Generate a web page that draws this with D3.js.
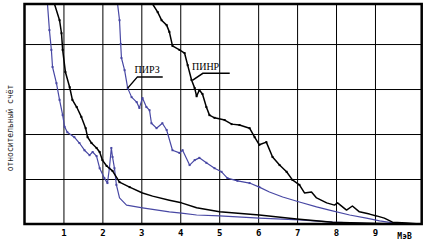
<!DOCTYPE html>
<html>
<head>
<meta charset="utf-8">
<script src="https://cdn.jsdelivr.net/npm/d3@7"></script>
<style>
  body { margin: 0; background: #fff; }
  svg { display: block; }
</style>
</head>
<body>
<div id="chart"></div>
<script>
// ticks along the energy axis
let xTicks = [1, 2, 3, 4, 5, 6, 7, 8, 9];
let yGrid = [1, 2, 3, 4];
let unitLabel = "МэВ";
let yLabel = "относительный счёт";

// left steep black curve
let blackA_x = [0.77, 0.90, 0.95, 0.98, 1.05, 1.16, 1.23, 1.34, 1.46, 1.57, 1.62, 1.72, 1.85, 1.93, 2.00, 2.11, 2.26, 2.44, 2.70, 3.03, 3.29, 3.72, 4.03, 4.42, 5.01, 6.03, 6.99, 7.91, 8.60, 9.63];
let blackA_y = [4.89, 4.53, 4.24, 3.87, 3.38, 3.04, 2.76, 2.60, 2.38, 2.13, 1.93, 1.80, 1.69, 1.60, 1.42, 1.29, 1.18, 0.93, 0.82, 0.69, 0.62, 0.53, 0.47, 0.36, 0.27, 0.20, 0.11, 0.04, 0.02, 0.0];

// left steep blue curve
let blueB_x = [0.59, 0.64, 0.69, 0.72, 0.82, 0.90, 0.98, 1.03, 1.10, 1.28, 1.41, 1.54, 1.67, 1.75, 1.85, 1.93, 2.05, 2.13, 2.18, 2.23, 2.26, 2.31, 2.36, 2.44, 2.62, 3.03, 3.72, 4.03, 4.42, 5.01, 6.03, 7.06, 7.91, 8.78, 9.63];
let blueB_y = [4.89, 4.31, 3.87, 3.49, 3.13, 2.76, 2.42, 2.16, 2.04, 1.93, 1.80, 1.64, 1.53, 1.60, 1.51, 1.24, 1.02, 0.91, 1.24, 1.69, 1.49, 1.24, 0.87, 0.58, 0.42, 0.36, 0.27, 0.24, 0.20, 0.18, 0.13, 0.09, 0.04, 0.01, 0.0];

// ПИРЗ (blue)
let pirz_x = [2.39, 2.44, 2.47, 2.49, 2.57, 2.65, 2.75, 2.88, 2.95, 3.03, 3.13, 3.21, 3.26, 3.39, 3.54, 3.65, 3.80, 3.98, 4.06, 4.24, 4.37, 4.49, 4.67, 4.88, 5.06, 5.21, 5.47, 5.78, 6.03, 6.29, 6.63, 7.06, 7.50, 7.83, 8.35, 8.78, 9.12, 9.50, 9.89];
let pirz_y = [4.89, 4.53, 4.00, 3.69, 3.42, 3.02, 2.82, 2.71, 2.58, 2.80, 2.60, 2.53, 2.24, 2.13, 2.24, 2.09, 1.64, 1.58, 1.64, 1.31, 1.42, 1.47, 1.36, 1.24, 1.16, 1.02, 0.96, 0.91, 0.82, 0.71, 0.60, 0.49, 0.38, 0.31, 0.20, 0.13, 0.07, 0.02, 0.0];

// ПИНР (black)
let pinr_x = [3.29, 3.42, 3.52, 3.65, 3.72, 3.80, 3.98, 4.11, 4.19, 4.29, 4.37, 4.42, 4.49, 4.57, 4.67, 4.75, 4.88, 5.14, 5.32, 5.52, 5.78, 5.91, 6.03, 6.21, 6.37, 6.55, 6.73, 6.88, 7.06, 7.19, 7.37, 7.50, 7.76, 7.96, 8.04, 8.27, 8.42, 8.60, 8.86, 9.04, 9.24, 9.45, 9.81, 10.14];
let pinr_y = [4.89, 4.71, 4.53, 4.42, 4.27, 3.96, 3.87, 3.80, 3.53, 3.20, 3.02, 2.84, 2.98, 2.89, 2.60, 2.42, 2.36, 2.31, 2.22, 2.20, 2.13, 1.93, 1.76, 1.82, 1.49, 1.31, 1.16, 0.98, 0.87, 0.69, 0.71, 0.58, 0.47, 0.42, 0.47, 0.31, 0.40, 0.27, 0.22, 0.18, 0.13, 0.04, 0.02, 0.0];

let width = 429, height = 244;
let margin = {top: 4, right: 7.3, bottom: 20, left: 24.5};
let blue = "#4848a4";

const svg = d3.select("#chart").append("svg")
    .attr("width", width)
    .attr("height", height);

let x = d3.scaleLinear().domain([0, 10.2]).range([margin.left, width - margin.right]);
let y = d3.scaleLinear().domain([0, 4.89]).range([height - margin.bottom, margin.top]);

svg.append("defs").append("clipPath").attr("id", "plot")
  .append("rect")
    .attr("x", x(0)).attr("y", y(4.89))
    .attr("width", x(10.2) - x(0)).attr("height", y(0) - y(4.89));

// vertical grid + tick labels
let xAxis = svg.append("g")
    .attr("transform", `translate(0,${y(0)})`)
    .call(d3.axisBottom(x).tickValues(xTicks).tickSize(-(y(0) - y(4.89))).tickPadding(6).tickFormat(d3.format("d")));
xAxis.select(".domain").remove();
xAxis.selectAll("line").attr("stroke", "#000").attr("stroke-width", 1);
xAxis.selectAll("text")
    .attr("fill", "#000")
    .style("font", "bold 9px 'DejaVu Sans Mono', monospace");

svg.append("text")
    .attr("x", x(9.76)).attr("y", y(0) + 15)
    .attr("text-anchor", "middle")
    .style("font", "bold 8px 'DejaVu Sans Mono', monospace")
    .text(unitLabel);

// horizontal grid
let yAxis = svg.append("g")
    .attr("transform", `translate(${x(0)},0)`)
    .call(d3.axisLeft(y).tickValues(yGrid).tickSize(-(x(10.2) - x(0))).tickFormat(""));
yAxis.select(".domain").remove();
yAxis.selectAll("line").attr("stroke", "#000").attr("stroke-width", 1);

svg.append("text")
    .attr("transform", `translate(12.5,128) rotate(-90)`)
    .attr("text-anchor", "middle")
    .style("font", "8px 'DejaVu Sans Mono', monospace")
    .attr("fill", "#222")
    .text(yLabel);

let line = d3.line().x(d => x(d[0])).y(d => y(d[1]));
let series = [
    {xs: blueB_x, ys: blueB_y, color: blue, w: 1.2},
    {xs: pirz_x, ys: pirz_y, color: blue, w: 1.2},
    {xs: blackA_x, ys: blackA_y, color: "#000", w: 1.5},
    {xs: pinr_x, ys: pinr_y, color: "#000", w: 1.5}
];

let plot = svg.append("g").attr("clip-path", "url(#plot)");
series.forEach(s => {
    let pts = d3.zip(s.xs, s.ys);
    plot.append("path")
        .datum(pts)
        .attr("fill", "none")
        .attr("stroke", s.color)
        .attr("stroke-width", s.w)
        .attr("stroke-linejoin", "round")
        .attr("d", line);
    // small square markers on the steep part
    plot.selectAll(null)
        .data(pts.filter(d => d[1] > 0.8))
        .join("rect")
        .attr("x", d => x(d[0]) - 1)
        .attr("y", d => y(d[1]) - 1)
        .attr("width", 2)
        .attr("height", 2)
        .attr("fill", s.color);
});

// frame
svg.append("rect")
    .attr("x", x(0)).attr("y", y(4.89))
    .attr("width", x(10.2) - x(0)).attr("height", y(0) - y(4.89))
    .attr("fill", "none")
    .attr("stroke", "#000")
    .attr("stroke-width", 2.5);

// curve labels with leaders
let labels = [
    {text: "ПИРЗ", tx: 3.15, ty: 3.35, ux0: 2.9, ux1: 3.55, uy: 3.27, px: 2.65, py: 3.02},
    {text: "ПИНР", tx: 4.65, ty: 3.42, ux0: 4.58, ux1: 5.27, uy: 3.35, px: 4.32, py: 3.2}
];
labels.forEach(l => {
    svg.append("text")
        .attr("x", x(l.tx)).attr("y", y(l.ty))
        .attr("text-anchor", "middle")
        .style("font", "10px 'Liberation Serif', serif")
        .text(l.text);
    svg.append("path")
        .attr("d", `M${x(l.px)},${y(l.py)}L${x(l.ux0)},${y(l.uy)}L${x(l.ux1)},${y(l.uy)}`)
        .attr("fill", "none")
        .attr("stroke", "#000")
        .attr("stroke-width", 1.5);
});
</script>
</body>
</html>
